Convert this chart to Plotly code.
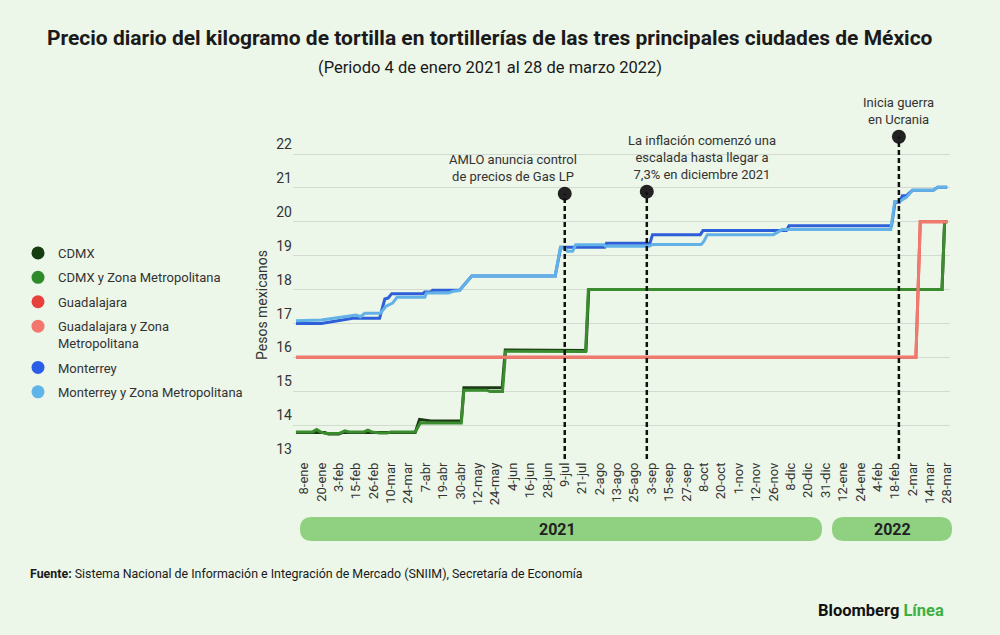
import plotly.graph_objects as go

# etiquetas del eje x (una cada ~12 días)
tick_labels = ["8-ene", "20-ene", "3-feb", "15-feb", "26-feb", "10-mar", "24-mar", "7-abr",
               "19-abr", "30-abr", "12-may", "24-may", "4-jun", "16-jun", "28-jun", "9-jul",
               "21-jul", "2-ago", "13-ago", "25-ago", "3-sep", "15-sep", "27-sep", "8-oct",
               "20-oct", "1-nov", "12-nov", "26-nov", "8-dic", "20-dic", "31-dic", "12-ene",
               "24-ene", "4-feb", "18-feb", "2-mar", "14-mar", "28-mar"]

# series: posición en la escala de etiquetas (0 = 8-ene) y precio
cdmx_x = [-0.46, 1.2, 1.4, 2.0, 2.2, 6.4, 6.65, 7.3, 9.05, 9.2, 11.4, 11.58, 16.22, 16.38, 36.7, 36.85, 37]
cdmx_y = [13.78, 13.78, 13.74, 13.74, 13.78, 13.78, 14.17, 14.12, 14.12, 15.1, 15.1, 16.22, 16.2, 18.0, 18.0, 20.0, 20.0]

cdmx_zm_x = [-0.46, 0.5, 0.73, 0.95, 1.25, 2.05, 2.35, 2.6, 3.45, 3.68, 3.9, 4.35, 4.8, 5.0, 6.4, 6.7,
             9.05, 9.2, 10.5, 10.7, 11.42, 11.6, 16.2, 16.36, 36.7, 36.85, 37]
cdmx_zm_y = [13.8, 13.8, 13.87, 13.8, 13.75, 13.76, 13.83, 13.8, 13.8, 13.85, 13.8, 13.77, 13.77, 13.8, 13.8, 14.07,
             14.06, 15.03, 15.03, 14.99, 14.99, 16.18, 16.17, 18.0, 18.0, 20.0, 20.0]

gdl_x = [-0.46, 35.2, 35.45, 37]
gdl_y = [16.0, 16.0, 20.0, 20.0]
gdl_zm_x = [-0.46, 35.2, 35.45, 37]
gdl_zm_y = [16.0, 16.0, 20.0, 20.0]

mty_x = [-0.46, 1.0, 2.8, 4.35, 4.65, 4.85, 5.05, 6.85, 6.95, 7.3, 7.4, 8.95, 9.65, 14.45, 14.77, 17.3,
         17.4, 19.9, 20.05, 22.8, 22.95, 27.75, 27.9, 33.8, 34.0, 34.25, 34.42, 34.65, 35.0, 36.2, 36.45, 37]
mty_y = [17.0, 17.0, 17.15, 17.15, 17.72, 17.75, 17.88, 17.88, 17.93, 17.93, 17.98, 17.98, 18.4, 18.4, 19.25, 19.25,
         19.37, 19.37, 19.62, 19.62, 19.74, 19.74, 19.88, 19.88, 20.58, 20.58, 20.77, 20.77, 20.93, 20.93, 21.02, 21.02]

mty_zm_x = [-0.46, 1.0, 3.0, 3.25, 3.5, 4.4, 4.7, 5.1, 5.35, 6.95, 7.05, 8.3, 8.6, 8.95, 9.65, 14.45, 14.75,
            15.0, 15.15, 15.45, 15.63, 17.25, 17.35, 19.85, 20.05, 22.85, 23.0, 23.2, 27.0, 27.5, 33.75,
            33.98, 34.25, 34.65, 35.0, 36.2, 36.45, 37]
mty_zm_y = [17.08, 17.1, 17.25, 17.2, 17.3, 17.3, 17.5, 17.6, 17.77, 17.77, 17.9, 17.9, 17.95, 17.97, 18.4, 18.4, 19.24,
            19.22, 19.13, 19.13, 19.32, 19.32, 19.28, 19.28, 19.33, 19.33, 19.42, 19.62, 19.62, 19.77, 19.77,
            20.6, 20.6, 20.72, 20.93, 20.93, 21.02, 21.02]

# eventos marcados
event_x = [15, 19.72, 34.22]
event_y = [20.83, 20.89, 22.51]
event_text = ["AMLO anuncia control<br>de precios de Gas LP",
              "La inflación comenzó una<br>escalada hasta llegar a<br>7,3% en diciembre 2021",
              "Inicia guerra<br>en Ucrania"]
event_shift = [-52, 55, 0]

series = [
    ("CDMX", cdmx_x, cdmx_y, "#1b3a14", "#163d10"),
    ("CDMX y Zona Metropolitana", cdmx_zm_x, cdmx_zm_y, "#3a8c2e", "#2f8a2a"),
    ("Guadalajara", gdl_x, gdl_y, "#e8443c", "#e8403a"),
    ("Guadalajara y Zona<br>Metropolitana", gdl_zm_x, gdl_zm_y, "#ef7a6f", "#f2776c"),
    ("Monterrey", mty_x, mty_y, "#2d5fd8", "#2a5de8"),
    ("Monterrey y Zona Metropolitana", mty_zm_x, mty_zm_y, "#62b2e8", "#5fb4ea"),
]

BG = "#ecf6e9"
FONT = "Roboto"
L, R, T, B = 293, 950, 132, 459


def paper(px, py):
    return (px - L) / (R - L), (B - py) / (B - T)


def pill(x0, x1, y0, y1):
    r = (y1 - y0) / 2
    pts = [("M", x0 + r, y0), ("L", x1 - r, y0), ("Q", x1, y0, x1, y0 + r), ("Q", x1, y1, x1 - r, y1),
           ("L", x0 + r, y1), ("Q", x0, y1, x0, y0 + r), ("Q", x0, y0, x0 + r, y0)]
    out = ""
    for p in pts:
        cmd, vals = p[0], p[1:]
        coords = []
        for i in range(0, len(vals), 2):
            u, v = paper(vals[i], vals[i + 1])
            coords.append(f"{u:.5f},{v:.5f}")
        out += cmd + " ".join(coords) + " "
    return out + "Z"


def note(px, py, text, size, anchor="center", color="#1a1a1a", angle=0):
    ux, uy = paper(px, py)
    fig.add_annotation(x=ux, y=uy, xref="paper", yref="paper", showarrow=False, xanchor=anchor,
                       yanchor="middle", textangle=angle, text=text,
                       font=dict(family=FONT, size=size, color=color))


fig = go.Figure()

for i, (name, xs, ys, line_col, leg_col) in enumerate(series):
    fig.add_trace(go.Scatter(x=xs, y=ys, mode="lines", line=dict(color=line_col, width=3),
                             showlegend=False, hoverinfo="skip"))
for i, (name, xs, ys, line_col, leg_col) in enumerate(series):
    fig.add_trace(go.Scatter(x=[None], y=[None], mode="markers", name=name, legendgroup=f"g{i}",
                             marker=dict(color=leg_col, size=13, symbol="circle")))

for ex, ey in zip(event_x, event_y):
    fig.add_shape(type="line", xref="x", yref="y", x0=ex, x1=ex, y0=13, y1=ey,
                  line=dict(color="#111111", width=2.5, dash="5px,3px"))
fig.add_trace(go.Scatter(x=event_x, y=event_y, mode="markers", showlegend=False, cliponaxis=False,
                         marker=dict(color="#222222", size=14), hoverinfo="skip"))

for ex, ey, txt, sh in zip(event_x, event_y, event_text, event_shift):
    fig.add_annotation(x=ex, y=ey, xref="x", yref="y", text=txt, showarrow=False,
                       xshift=sh, yshift=8, yanchor="bottom", xanchor="center", align="center",
                       font=dict(family=FONT, size=13, color="#333333"))

# barras de año
for x0, x1, label, cx in [(300, 822, "2021", 557), (832, 952, "2022", 892)]:
    fig.add_shape(type="path", xref="paper", yref="paper", path=pill(x0, x1, 517, 541),
                  fillcolor="#8fd081", line=dict(width=0), layer="below")
    note(cx, 529, f"<b>{label}</b>", 16, color="#222222")

note(490, 38, "<b>Precio diario del kilogramo de tortilla en tortillerías de las tres principales ciudades de México</b>", 21)
note(490, 68, "(Periodo 4 de enero 2021 al 28 de marzo 2022)", 16.5)
note(262, 305, "Pesos mexicanos", 14, color="#333333", angle=-90)
note(28, 573, "<b>Fuente:</b> Sistema Nacional de Información e Integración de Mercado (SNIIM), Secretaría de Economía",
     12.4, anchor="left")
note(946, 610, "<b>Bloomberg <span style='color:#3cb043'>Línea</span></b>", 16.5, anchor="right", color="#111111")

lx, _ = paper(18, 0)
_, ly = paper(0, 238)
fig.update_layout(
    width=1000, height=635,
    margin=dict(l=L, r=1000 - R, t=T, b=635 - B),
    paper_bgcolor=BG, plot_bgcolor=BG,
    font=dict(family=FONT, color="#333333"),
    legend=dict(x=lx, y=ly, xanchor="left", yanchor="top", bgcolor="rgba(0,0,0,0)",
                font=dict(family=FONT, size=13, color="#333333"), traceorder="grouped",
                tracegroupgap=4.5, valign="top", itemsizing="trace"),
    xaxis=dict(range=[-0.63, 37.16], tickmode="array", tickvals=list(range(len(tick_labels))),
               ticktext=tick_labels, tickangle=-90, showgrid=False, zeroline=False,
               showline=False, ticks="", tickfont=dict(family=FONT, size=13, color="#333333")),
    yaxis=dict(range=[13, 22.65], tickmode="array", tickvals=list(range(13, 23)),
               showgrid=True, gridcolor="#d3dad0", gridwidth=1, zeroline=False, ticks="",
               ticklabelposition="outside top", tickfont=dict(family=FONT, size=14, color="#333333")),
    hovermode=False,
)

fig.write_html("out.html", config={"displayModeBar": False},
               post_script="document.body.style.margin='0px';")
